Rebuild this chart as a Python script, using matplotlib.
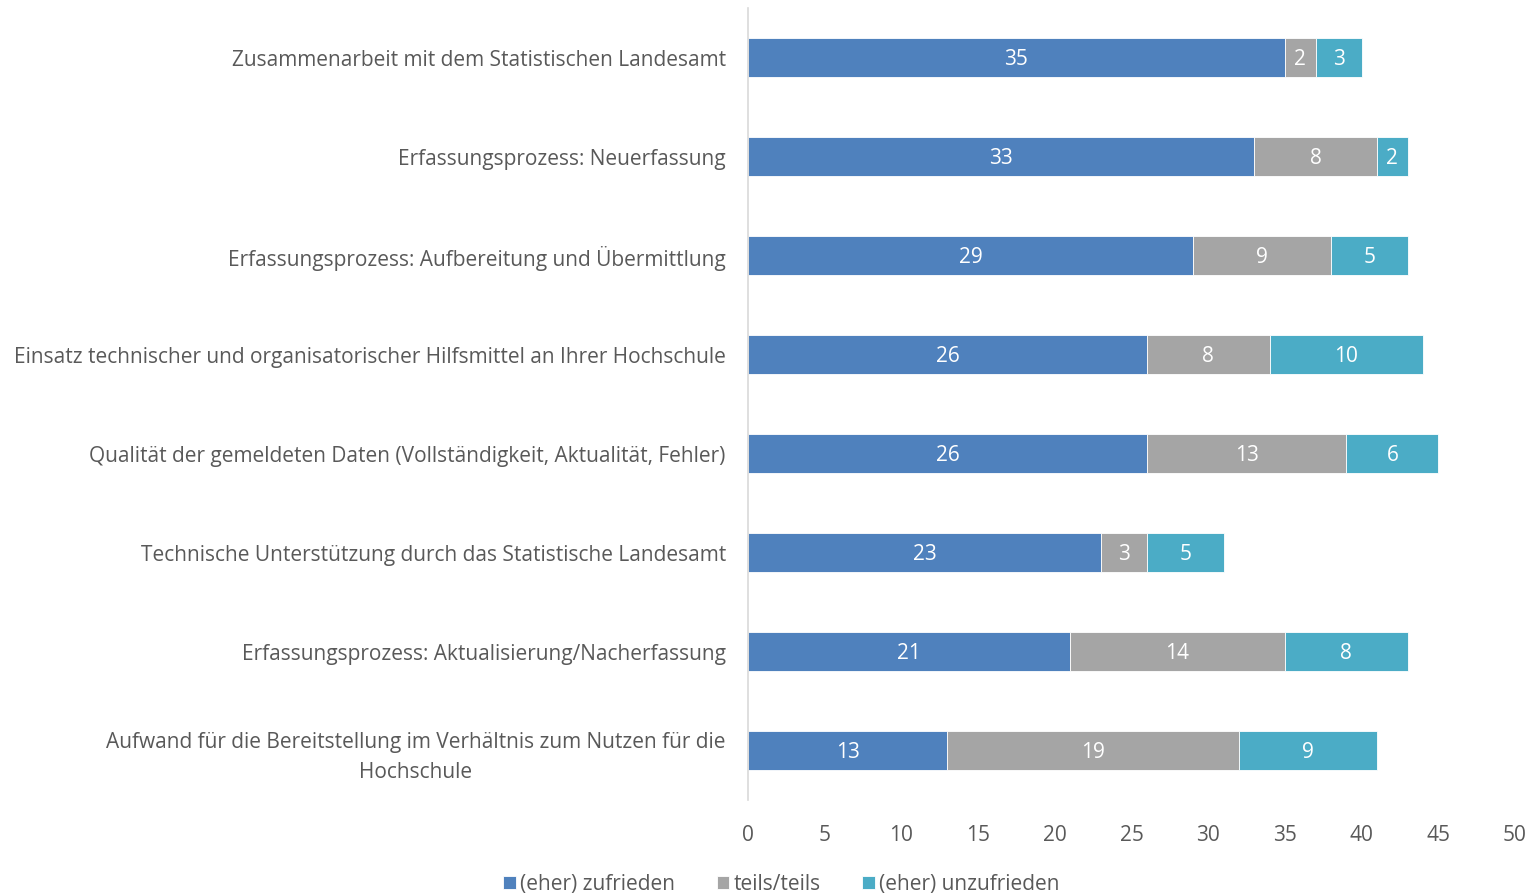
import matplotlib.pyplot as plt
import numpy as np

# categories (top to bottom as shown)
categories = [
    "Zusammenarbeit mit dem Statistischen Landesamt",
    "Erfassungsprozess: Neuerfassung",
    "Erfassungsprozess: Aufbereitung und Übermittlung",
    "Einsatz technischer und organisatorischer Hilfsmittel an Ihrer Hochschule",
    "Qualität der gemeldeten Daten (Vollständigkeit, Aktualität, Fehler)",
    "Technische Unterstützung durch das Statistische Landesamt",
    "Erfassungsprozess: Aktualisierung/Nacherfassung",
    "Aufwand für die Bereitstellung im Verhältnis zum Nutzen für die\nHochschule",
]
zufrieden = [35, 33, 29, 26, 26, 23, 21, 13]
teils = [2, 8, 9, 8, 13, 3, 14, 19]
unzufrieden = [3, 2, 5, 10, 6, 5, 8, 9]

series_names = ["(eher) zufrieden", "teils/teils", "(eher) unzufrieden"]
colors = ["#4F81BD", "#A5A5A5", "#4BACC6"]
x_ticks = list(range(0, 51, 5))

plt.rcParams['font.family'] = ['Open Sans', 'DejaVu Sans']
text_color = "#595959"
fs = 15

fig = plt.figure(figsize=(15.35, 8.96), dpi=100)
ax = fig.add_axes([0.4873, 0.107, 0.4997, 0.884])

y = np.arange(len(categories))
left = np.zeros(len(categories))
handles = []
for vals, name, col in zip([zufrieden, teils, unzufrieden], series_names, colors):
    bars = ax.barh(y, vals, left=left, height=0.4, color=col, label=name,
                   edgecolor="white", linewidth=0.6)
    handles.append(bars)
    for b, v in zip(bars, vals):
        ax.text(b.get_x() + b.get_width() / 2, b.get_y() + b.get_height() / 2 + 0.02,
                str(v), ha="center", va="center", color="white", fontsize=fs)
    left += np.array(vals)

ax.set_ylim(len(categories) - 0.5, -0.5)
ax.set_xlim(0, 50)
ax.set_xticks(x_ticks)
ax.set_yticks(y)
ax.set_yticklabels(categories, fontsize=fs, color=text_color,
                   multialignment="center", linespacing=1.55)
ax.tick_params(axis="x", length=0, labelsize=fs, labelcolor=text_color, pad=18)
ax.tick_params(axis="y", length=0, pad=16)
for s in ["top", "right", "bottom"]:
    ax.spines[s].set_visible(False)
ax.spines["left"].set_color("#D9D9D9")
ax.spines["left"].set_linewidth(1.2)

fig.legend(handles=handles, labels=series_names, loc="center",
           bbox_to_anchor=(0.509, 0.013), ncol=3, frameon=False,
           fontsize=fs, labelcolor=text_color, handlelength=0.6, handleheight=0.6,
           handletextpad=0.2, columnspacing=2.0, borderpad=0)

plt.savefig("out.png", dpi=100)
